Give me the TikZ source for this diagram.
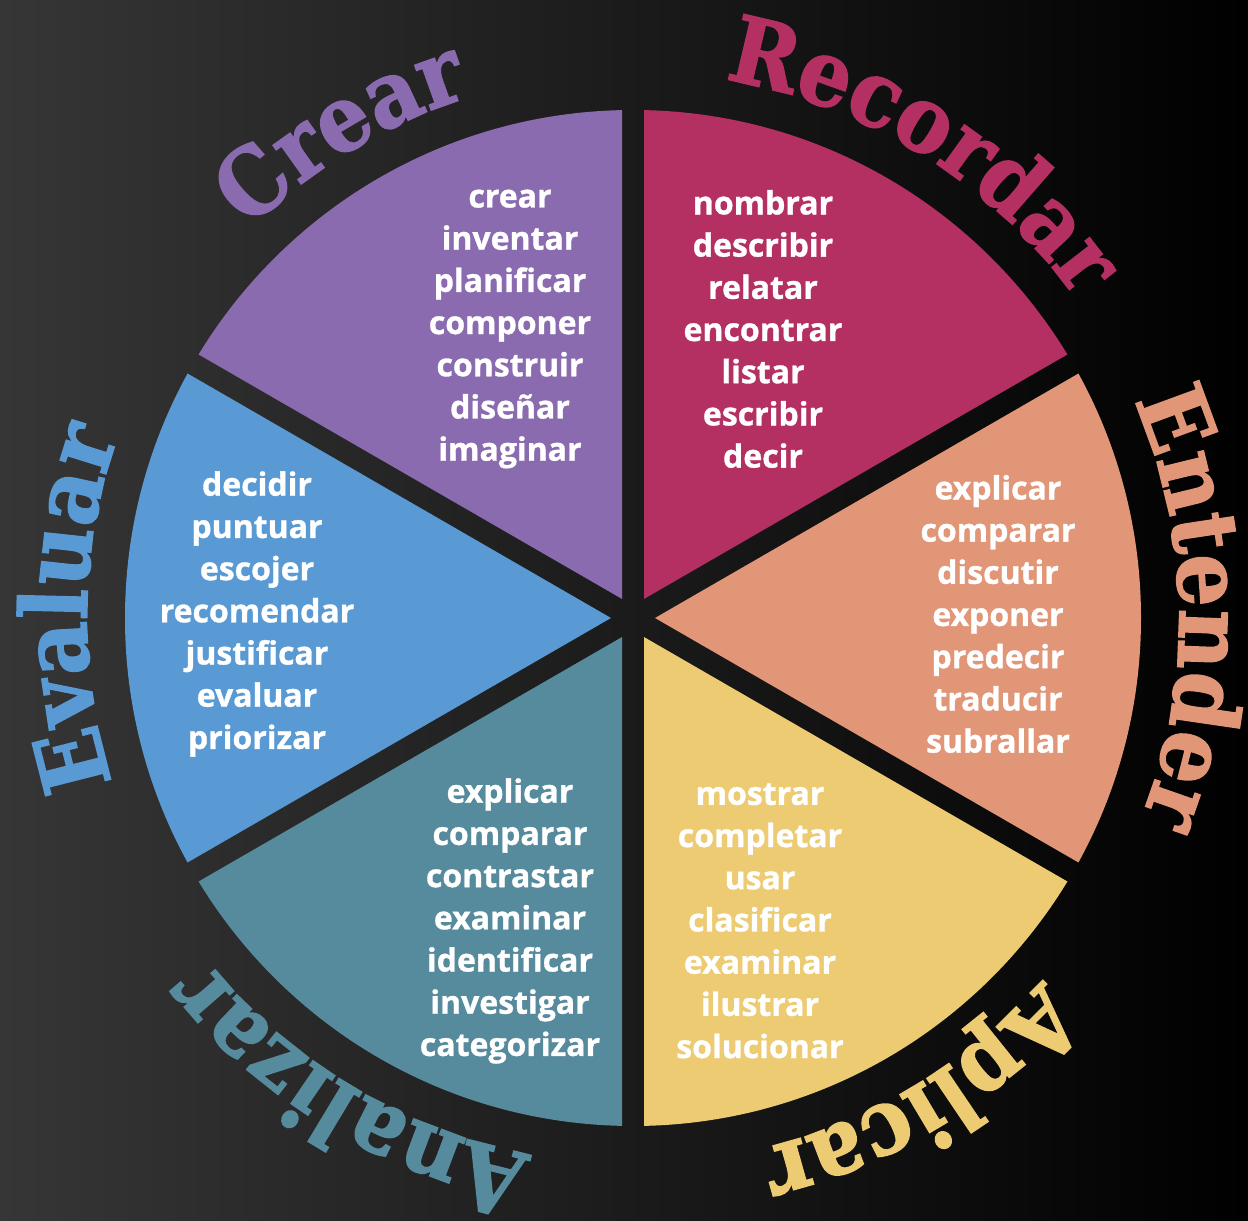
\documentclass[tikz,border=0pt]{standalone}
\usepackage{fontspec}
\usetikzlibrary{calc,decorations.text}
\newfontfamily\wheeltitle{DejaVu Serif}[FakeStretch=0.9, BoldFeatures={FakeBold=1.6}]
\newfontfamily\wheelverbs{Open Sans}[BoldFeatures={FakeBold=1.0}]
\definecolor{crearC}{HTML}{8B6BB0}
\definecolor{recordarC}{HTML}{B53062}
\definecolor{entenderC}{HTML}{E09677}
\definecolor{aplicarC}{HTML}{EDCB72}
\definecolor{analizarC}{HTML}{568A9D}
\definecolor{evaluarC}{HTML}{5A9AD4}
\definecolor{bgL}{HTML}{363636}
\newcommand\rimfont{\wheeltitle\bfseries\fontsize{92}{92}\selectfont}
\begin{document}
\begin{tikzpicture}[x=1pt,y=1pt,
  verbs/.style={text=white, font=\wheelverbs\bfseries\fontsize{32}{42.2}\selectfont,
    align=center, inner sep=0pt},
  ttl/.style={decorate, decoration={text along path, text align=center,
    text color=#1}}
]
\useasboundingbox (0,0) rectangle (1248,1221);
\fill[left color=bgL, right color=black] (0,0) rectangle (1248,1221);
\coordinate (C) at (633,603);

% six wedges, each pulled back from the centre to leave a gap
\foreach \a/\col in {30/recordarC, -30/entenderC, -90/aplicarC, 210/analizarC, 150/evaluarC, 90/crearC}{
  \begin{scope}
    \clip (C) circle[radius=508pt];
    \fill[\col] ($(C)+(\a+30:22pt)$) -- ++(\a:700pt) -- ++(\a+120:700pt) -- cycle;
  \end{scope}
}

% curved titles round the rim
\path[ttl=crearC, decoration={text={|\rimfont|Crear}}]
  ($(C)+(181:546pt)$) arc[start angle=181, end angle=61, radius=546pt];
\path[ttl=recordarC, decoration={text={|\rimfont|Recordar}}]
  ($(C)+(118:546pt)$) arc[start angle=118, end angle=-2, radius=546pt];
\path[ttl=entenderC, decoration={text={|\rimfont|Entender}}]
  ($(C)+(61:546pt)$) arc[start angle=61, end angle=-59, radius=546pt];
\path[ttl=aplicarC, decoration={text={|\rimfont|Aplicar}}]
  ($(C)+(1:546pt)$) arc[start angle=1, end angle=-119, radius=546pt];
\path[ttl=analizarC, decoration={text={|\rimfont|Analizar}}]
  ($(C)+(-61:546pt)$) arc[start angle=-61, end angle=-181, radius=546pt];
\path[ttl=evaluarC, decoration={text={|\rimfont|Evaluar}}]
  ($(C)+(239:546pt)$) arc[start angle=239, end angle=119, radius=546pt];

% verb lists
\node[verbs] (v-crear) at (510,892) {crear\\inventar\\planificar\\componer\\construir\\diseñar\\imaginar};
\node[verbs] (v-recordar) at (763,892) {nombrar\\describir\\relatar\\encontrar\\listar\\escribir\\decir};
\node[verbs] (v-entender) at (998,607) {explicar\\comparar\\discutir\\exponer\\predecir\\traducir\\subrallar};
\node[verbs] (v-evaluar) at (257,607) {decidir\\puntuar\\escojer\\recomendar\\justificar\\evaluar\\priorizar};
\node[verbs] (v-analizar) at (510,300) {explicar\\comparar\\contrastar\\examinar\\identificar\\investigar\\categorizar};
\node[verbs] (v-aplicar) at (760,300) {mostrar\\completar\\usar\\clasificar\\examinar\\ilustrar\\solucionar};
\end{tikzpicture}
\end{document}
